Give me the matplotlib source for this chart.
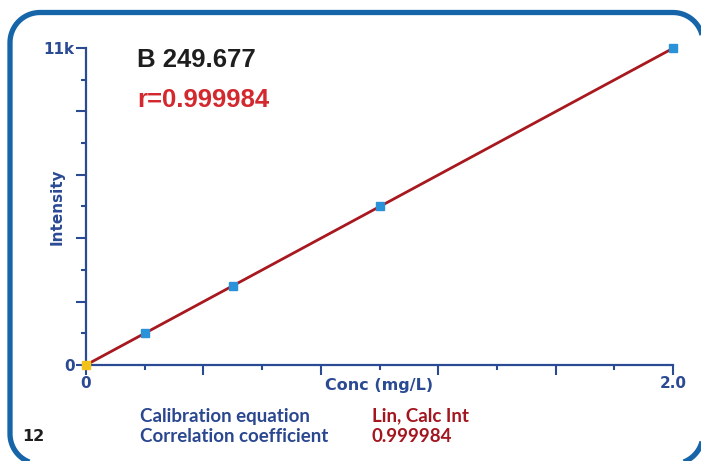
import matplotlib
matplotlib.use("Agg")
import matplotlib.pyplot as plt
from matplotlib.path import Path
from matplotlib.patches import PathPatch
import numpy as np

# Data
conc = [0.0, 0.2, 0.5, 1.0, 2.0]
intensity = [0, 1098, 2745, 5500, 10990]
fit_x = [0.0, 2.0]
fit_y = [0, 10990]
y_labels = {0: "0", 11000: "11k"}
x_labels = {0.0: "0", 2.0: "2.0"}

W, H = 701, 461
fig = plt.figure(figsize=(W / 100, H / 100), dpi=100)

# background overlay for rounded frame (pixel coords, y measured from bottom)
bg = fig.add_axes([0, 0, 1, 1], zorder=0)
bg.set_xlim(0, W)
bg.set_ylim(0, H)
bg.axis("off")


def rounded_rect(x0, y0, x1, y1, r, n=20):
    pts = []
    corners = [(x1 - r, y1 - r, 0), (x0 + r, y1 - r, 90), (x0 + r, y0 + r, 180), (x1 - r, y0 + r, 270)]
    for cx, cy, a0 in corners:
        a = np.radians(np.linspace(a0, a0 + 90, n))
        pts.extend(zip(cx + r * np.cos(a), cy + r * np.sin(a)))
    pts.append(pts[0])
    return Path(pts)


frame = PathPatch(rounded_rect(10, H - 464, 703, H - 12.5, 30), fill=False,
                  edgecolor="#1565a8", linewidth=3.8, clip_on=False, joinstyle="round")
bg.add_patch(frame)


def T(x, y, s, **kw):
    bg.text(x, H - y, s, **kw)


axis_col = "#2b4a94"
ax = fig.add_axes([86 / W, 1 - 365 / H, (673 - 86) / W, (365 - 48) / H], zorder=1)
ax.patch.set_alpha(0)
ax.set_xlim(0, 2.0)
ax.set_ylim(0, 11000)
for s in ["top", "right"]:
    ax.spines[s].set_visible(False)
for s in ["left", "bottom"]:
    ax.spines[s].set_color(axis_col)
    ax.spines[s].set_linewidth(1.6)

ax.plot(fit_x, fit_y, color="#a8181f", lw=2.0, zorder=2, clip_on=False)
ax.plot(conc[1:], intensity[1:], "s", color="#2a92d8", ms=6, zorder=3, clip_on=False)
ax.plot(conc[:1], intensity[:1], "s", color="#f2c21b", ms=6, zorder=3, clip_on=False)

yt_major = np.arange(0, 11001, 2200)
yt_minor = np.arange(1100, 11000, 2200)
ax.set_yticks(yt_major)
ax.set_yticklabels([y_labels.get(int(v), "") for v in yt_major])
ax.set_yticks(yt_minor, minor=True)
xt_major = np.round(np.arange(0, 2.01, 0.4), 1)
xt_minor = np.round(np.arange(0.2, 2.0, 0.4), 1)
ax.set_xticks(xt_major)
ax.set_xticklabels([x_labels.get(float(v), "") for v in xt_major])
ax.set_xticks(xt_minor, minor=True)

ax.tick_params(axis="both", which="major", length=7, width=1.5, color=axis_col,
               labelcolor=axis_col, pad=1)
ax.tick_params(axis="both", which="minor", length=3.5, width=1.5, color=axis_col)
for t in ax.get_xticklabels() + ax.get_yticklabels():
    t.set_fontweight("bold")
    t.set_fontsize(11)
    t.set_family("DejaVu Sans")

ax.set_xlabel("Conc (mg/L)", color=axis_col, fontsize=11.5, fontweight="bold")
ax.xaxis.set_label_coords((379 - 86) / 587, -13 / 317)
ax.set_ylabel("Intensity", color=axis_col, fontsize=11, fontweight="bold")
ax.yaxis.set_label_coords((65 - 86) / 587, (365 - 207) / 317)

# Header texts
T(137, 60, "B 249.677", fontsize=18.5, fontweight="bold", color="#1e1e1e",
  family="Liberation Sans", va="center", ha="left")
T(137, 100, "r=0.999984", fontsize=18.5, fontweight="bold", color="#d2282e",
  family="Liberation Sans", va="center", ha="left")

# Bottom texts
ft = dict(fontsize=13.5, fontweight="bold", family="Lato", va="center", ha="left")
T(140, 416, "Calibration equation", color="#2a4790", **ft)
T(140, 436, "Correlation coefficient", color="#2a4790", **ft)
T(372, 416, "Lin, Calc Int", color="#a3161f", **ft)
T(372, 436, "0.999984", color="#a3161f", **ft)
T(22, 436, "12", color="#1e1e1e", fontsize=11.5, fontweight="bold",
  family="DejaVu Sans", va="center", ha="left")

fig.savefig("out.png", dpi=100)
